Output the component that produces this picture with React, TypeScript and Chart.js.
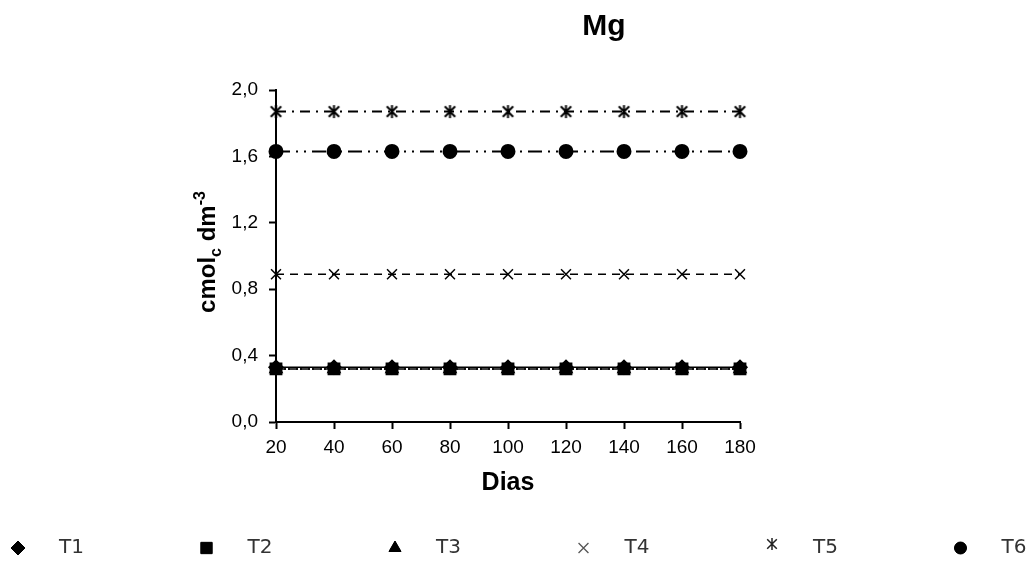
import React, { useEffect, useRef } from "react";
import { Chart, registerables } from "chart.js";
import { drawPoint } from "chart.js/helpers";

Chart.register(...registerables);

// Sampling days (x axis)
const days = [20, 40, 60, 80, 100, 120, 140, 160, 180];

// Mg content (cmolc dm-3) per treatment
const t1 = [0.33, 0.33, 0.33, 0.33, 0.33, 0.33, 0.33, 0.33, 0.33];
const t2 = [0.32, 0.32, 0.32, 0.32, 0.32, 0.32, 0.32, 0.32, 0.32];
const t3 = [0.32, 0.32, 0.32, 0.32, 0.32, 0.32, 0.32, 0.32, 0.32];
const t4 = [0.89, 0.89, 0.89, 0.89, 0.89, 0.89, 0.89, 0.89, 0.89];
const t5 = [1.87, 1.87, 1.87, 1.87, 1.87, 1.87, 1.87, 1.87, 1.87];
const t6 = [1.63, 1.63, 1.63, 1.63, 1.63, 1.63, 1.63, 1.63, 1.63];

const seriesLabels = ["T1", "T2", "T3", "T4", "T5", "T6"];
const yTicks = [0, 0.4, 0.8, 1.2, 1.6, 2.0];

const FONT = "Liberation Sans, Arial, sans-serif";

function asteriskPath(ctx: CanvasRenderingContext2D, cx: number, cy: number, r: number) {
  ctx.beginPath();
  ctx.moveTo(cx, cy - r);
  ctx.lineTo(cx, cy + r);
  const d = r * 0.8;
  ctx.moveTo(cx - d, cy - d);
  ctx.lineTo(cx + d, cy + d);
  ctx.moveTo(cx + d, cy - d);
  ctx.lineTo(cx - d, cy + d);
  ctx.stroke();
}

function makeAsterisk(size: number, lw: number): HTMLCanvasElement {
  const c = document.createElement("canvas");
  c.width = size;
  c.height = size;
  const ctx = c.getContext("2d")!;
  ctx.strokeStyle = "#000";
  ctx.lineWidth = lw;
  asteriskPath(ctx, size / 2, size / 2, size / 2 - 1);
  return c;
}

const legendRadius: Record<string, number> = {
  rectRot: 7,
  rect: 8,
  triangle: 7,
  circle: 6,
};

const decorations = {
  id: "decorations",
  afterDraw(chart: any) {
    const ctx: CanvasRenderingContext2D = chart.ctx;
    const area = chart.chartArea;
    ctx.save();
    ctx.fillStyle = "#000";
    ctx.textBaseline = "middle";

    // Title
    ctx.textAlign = "center";
    ctx.font = `bold 30px ${FONT}`;
    ctx.fillText("Mg", 604, 27);

    // X axis title
    ctx.font = `bold 25px ${FONT}`;
    ctx.fillText("Dias", (area.left + area.right) / 2, 483);

    // Y axis title with subscript and superscript
    ctx.save();
    ctx.translate(207, 252);
    ctx.rotate(-Math.PI / 2);
    ctx.textAlign = "left";
    ctx.textBaseline = "alphabetic";
    const big = `bold 24px ${FONT}`;
    const small = `bold 16px ${FONT}`;
    const parts = [
      { t: "cmol", f: big, dy: 0 },
      { t: "c", f: small, dy: 6 },
      { t: " dm", f: big, dy: 0 },
      { t: "-3", f: small, dy: -10 },
    ];
    let total = 0;
    for (const p of parts) {
      ctx.font = p.f;
      total += ctx.measureText(p.t).width;
    }
    let x = -total / 2;
    for (const p of parts) {
      ctx.font = p.f;
      ctx.fillText(p.t, x, 8 + p.dy);
      x += ctx.measureText(p.t).width;
    }
    ctx.restore();

    // Legend row
    ctx.textAlign = "left";
    ctx.textBaseline = "middle";
    ctx.font = `20px DejaVu Sans, Verdana, sans-serif`;
    const y = 548;
    chart.data.datasets.forEach((ds: any, i: number) => {
      const mx = 18 + i * 188.5;
      ctx.fillStyle = "#000";
      ctx.strokeStyle = "#000";
      if (ds.label === "T5") {
        ctx.lineWidth = 1.5;
        ctx.strokeStyle = "#222";
        asteriskPath(ctx, mx, y - 4, 6);
      } else if (ds.label === "T4") {
        ctx.lineWidth = 1.3;
        ctx.strokeStyle = "#555";
        drawPoint(ctx, { pointStyle: "crossRot", radius: 7, borderWidth: 1.3, rotation: 0 }, mx, y);
      } else {
        ctx.lineWidth = 1;
        const r = legendRadius[ds.pointStyle] || 6;
        drawPoint(ctx, { pointStyle: ds.pointStyle, radius: r, borderWidth: 1, rotation: 0 }, mx, y);
        ctx.fill();
      }
      ctx.fillStyle = "#333";
      ctx.fillText(ds.label, mx + 41, y);
    });
    ctx.restore();
  },
};

export default function App() {
  const ref = useRef<HTMLCanvasElement | null>(null);

  useEffect(() => {
    if (!ref.current) return;
    const toPts = (vals: number[]) => days.map((d, i) => ({ x: d, y: vals[i] }));
    const star = makeAsterisk(15, 2);

    const base = {
      borderColor: "#000",
      backgroundColor: "#000",
      pointBackgroundColor: "#000",
      pointBorderColor: "#000",
      fill: false,
      tension: 0,
      clip: false as any,
    };

    const chart = new Chart(ref.current, {
      type: "line",
      data: {
        datasets: [
          { ...base, label: seriesLabels[0], data: toPts(t1), pointStyle: "rectRot", pointRadius: 7, borderWidth: 1.5, borderDash: [], order: 2 },
          { ...base, label: seriesLabels[1], data: toPts(t2), pointStyle: "rect", pointRadius: 8, borderWidth: 1.5, borderDash: [4, 2], order: 0 },
          { ...base, label: seriesLabels[2], data: toPts(t3), pointStyle: "triangle", pointRadius: 7, borderWidth: 1.5, borderDash: [2, 2], order: 1 },
          { ...base, label: seriesLabels[3], data: toPts(t4), pointStyle: "crossRot", pointRadius: 7, pointBorderWidth: 1.5, borderWidth: 1.5, borderDash: [8, 6], order: 3 },
          { ...base, label: seriesLabels[4], data: toPts(t5), pointStyle: star as any, pointRadius: 7, borderWidth: 2, borderDash: [10, 6, 2, 6], order: 4 },
          { ...base, label: seriesLabels[5], data: toPts(t6), pointStyle: "circle", pointRadius: 6.5, borderWidth: 2, borderDash: [14, 6, 2, 6, 2, 6], order: 5 },
        ],
      },
      options: {
        responsive: false,
        animation: false,
        layout: { padding: { left: 0, right: 292, top: 90, bottom: 0 } },
        plugins: {
          legend: { display: false },
          title: { display: false },
          tooltip: { enabled: false },
        },
        scales: {
          x: {
            type: "linear",
            min: 20,
            max: 180,
            afterFit: (s: any) => {
              s.height = 142;
            },
            ticks: {
              stepSize: 20,
              color: "#000",
              padding: 7,
              font: { family: FONT, size: 19 },
            },
            grid: {
              drawOnChartArea: false,
              drawTicks: true,
              tickLength: 7,
              tickColor: "#000",
              tickWidth: 2,
            },
            border: { display: true, color: "#000", width: 2 },
          },
          y: {
            type: "linear",
            min: 0,
            max: 2,
            afterFit: (s: any) => {
              s.width = 276;
            },
            afterBuildTicks: (s: any) => {
              s.ticks = yTicks.map((v) => ({ value: v }));
            },
            ticks: {
              color: "#000",
              padding: 11,
              font: { family: FONT, size: 19 },
              callback: (v: any) => Number(v).toFixed(1).replace(".", ","),
            },
            grid: {
              drawOnChartArea: false,
              drawTicks: true,
              tickLength: 7,
              tickColor: "#000",
              tickWidth: 2,
            },
            border: { display: true, color: "#000", width: 2 },
          },
        },
      },
      plugins: [decorations],
    });

    return () => chart.destroy();
  }, []);

  return (
    <div style={{ position: "absolute", left: 0, top: 0, width: 1032, height: 564, background: "#fff" }}>
      <canvas ref={ref} width={1032} height={564} />
    </div>
  );
}
